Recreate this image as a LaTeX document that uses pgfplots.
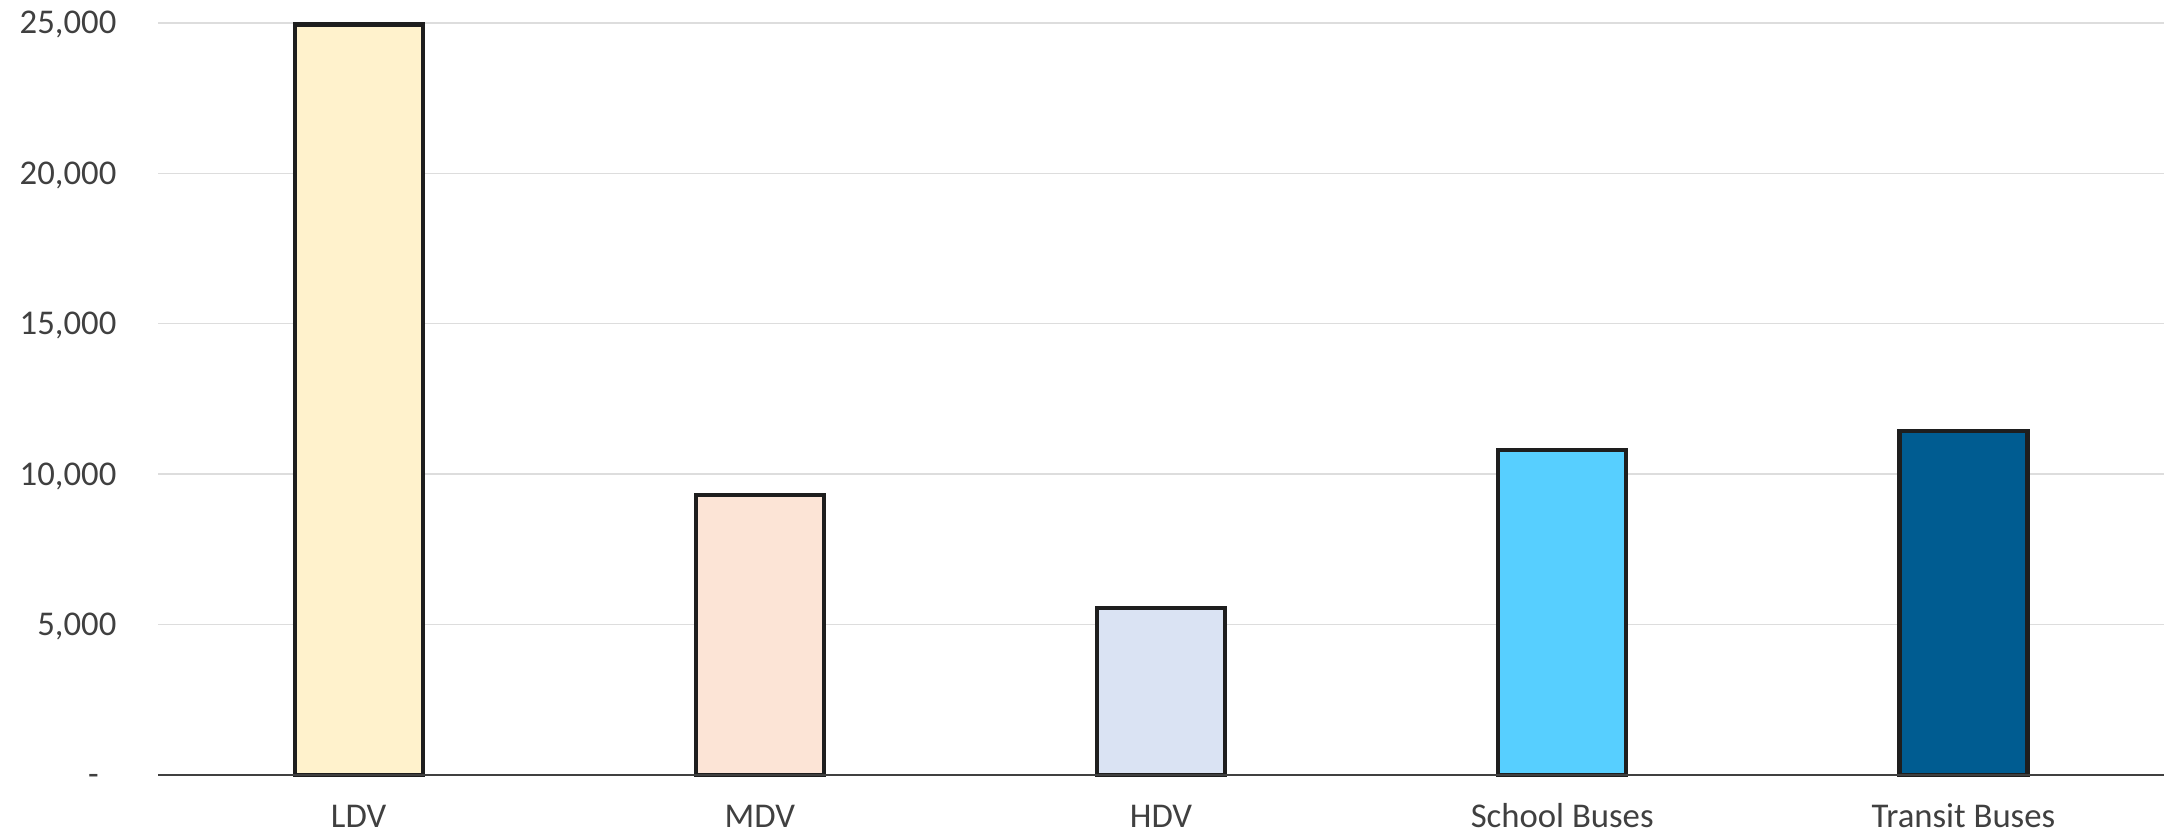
\documentclass[border=0pt]{standalone}
\usepackage{pgfplots}
\pgfplotsset{compat=1.18}
\usepackage{fontspec}
\setmainfont{Carlito}
\definecolor{txt}{HTML}{404040}
\definecolor{gridc}{HTML}{DDDDDD}
\definecolor{outl}{HTML}{1E1E1E}
\definecolor{cLDV}{HTML}{FFF2CC}
\definecolor{cMDV}{HTML}{FCE4D6}
\definecolor{cHDV}{HTML}{DAE3F3}
\definecolor{cSch}{HTML}{57CFFF}
\definecolor{cTra}{HTML}{005C91}
\begin{document}
\begin{tikzpicture}
\begin{axis}[
  scale only axis,
  width=722.16pt, height=270.72pt,
  xmin=-0.5, xmax=4.5,
  ymin=0, ymax=25000,
  scaled y ticks=false,
  clip=false,
  axis line style={draw=none},
  xmajorgrids=false, ymajorgrids=true,
  grid style={draw=gridc, line width=0.5pt},
  major tick length=0pt,
  tick style={draw=none},
  xtick={0,1,2,3,4},
  xticklabels={LDV,MDV,HDV,School Buses,Transit Buses},
  ytick={0,5000,10000,15000,20000,25000},
  yticklabels={{-\hphantom{0}},{5,000},{10,000},{15,000},{20,000},{25,000}},
  ticklabel style={font=\fontsize{12.5}{15}\selectfont, text=txt},
  yticklabel style={inner sep=0pt, anchor=base east, xshift=-14.8pt, yshift=-3.95pt},
  xticklabel style={inner sep=0pt, anchor=base, yshift=-19pt},
  ybar, bar width=46.08pt, bar shift=0pt,
  every axis plot/.append style={draw=outl, line width=1.5pt},
]
\addplot[fill=cLDV, draw=outl] coordinates {(0,24950)};
\addplot[fill=cMDV, draw=outl] coordinates {(1,9310)};
\addplot[fill=cHDV, draw=outl] coordinates {(2,5560)};
\addplot[fill=cSch, draw=outl] coordinates {(3,10800)};
\addplot[fill=cTra, draw=outl] coordinates {(4,11440)};
\draw[color=txt, line width=0.75pt] (rel axis cs:0,0) -- (rel axis cs:1,0);
\coordinate (sw) at (rel axis cs:0,0);
\coordinate (ne) at (rel axis cs:1,1);
\end{axis}
\pgfresetboundingbox
\path ([shift={(-56.88pt,-21.96pt)}]sw) rectangle ([shift={(0pt,8.28pt)}]ne);
\end{tikzpicture}
\end{document}
